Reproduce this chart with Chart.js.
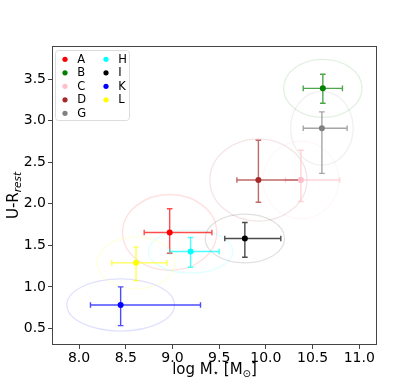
<!DOCTYPE html>
<html><head><meta charset="utf-8">
<script src="https://cdn.jsdelivr.net/npm/chart.js@4/dist/chart.umd.min.js"></script>
<style>html,body{margin:0;padding:0;background:#fff}#wrap{width:419px;height:388px;position:relative}</style>
</head><body><div id="wrap"><canvas id="c" width="419" height="388"></canvas></div>
<script>
// ---- data ----
const names  = ['A','B','C','D','G','H','I','K','L'];
const colors = ['#ff0000','#008000','#ffc0cb','#a52a2a','#808080','#00ffff','#000000','#0000ff','#ffff00'];
const logM   = [8.97, 10.61, 10.375, 9.92, 10.60, 9.194, 9.775, 8.445, 8.61];
const UR     = [1.655, 3.39, 2.287, 2.287, 2.91, 1.425, 1.582, 0.782, 1.289];
const logMLo = [8.697, 10.40, 10.21, 9.69, 10.40, 8.972, 9.56, 8.122, 8.35];
const logMHi = [9.422, 10.82, 10.79, 10.37, 10.87, 9.50, 10.16, 9.30, 8.94];
const URLo   = [1.405, 3.21, 2.028, 2.018, 2.366, 1.237, 1.357, 0.533, 1.075];
const URHi   = [1.94, 3.56, 2.644, 2.766, 3.107, 1.594, 1.775, 1.0, 1.478];
const ellRx  = [0.504, 0.42, 0.405, 0.52, 0.335, 0.452, 0.425, 0.576, 0.416];
const ellRy  = [0.457, 0.35, 0.466, 0.495, 0.444, 0.26, 0.293, 0.314, 0.314];
const xTicks = [8.0, 8.5, 9.0, 9.5, 10.0, 10.5, 11.0];
const yTicks = [0.5, 1.0, 1.5, 2.0, 2.5, 3.0, 3.5];
const xRange = [7.71, 11.19];
const yRange = [0.30, 3.90];

const FONT = 'DejaVu Sans';

function rgba(hex, a){
  const n = parseInt(hex.slice(1),16);
  return `rgba(${(n>>16)&255},${(n>>8)&255},${n&255},${a})`;
}

const datasets = names.map((n,i)=>({
  label: n,
  data: [{x: logM[i], y: UR[i]}],
  backgroundColor: colors[i],
  borderColor: colors[i],
  pointRadius: 3,
  pointHoverRadius: 3,
  borderWidth: 0
}));

const overlay = {
  id: 'overlay',
  beforeDatasetsDraw(chart){
    const ctx = chart.ctx, xs = chart.scales.x, ys = chart.scales.y, a = chart.chartArea;
    ctx.save();
    ctx.beginPath(); ctx.rect(a.left, a.top, a.right-a.left, a.bottom-a.top); ctx.clip();
    // ellipses
    names.forEach((n,i)=>{
      const cx = xs.getPixelForValue(logM[i]), cy = ys.getPixelForValue(UR[i]);
      const rx = Math.abs(xs.getPixelForValue(logM[i]+ellRx[i]) - cx);
      const ry = Math.abs(ys.getPixelForValue(UR[i]+ellRy[i]) - cy);
      ctx.beginPath(); ctx.ellipse(cx, cy, rx, ry, 0, 0, Math.PI*2);
      ctx.strokeStyle = rgba(colors[i], 0.12); ctx.lineWidth = 1.3; ctx.stroke();
    });
    // error bars
    const cap = 2.8;
    names.forEach((n,i)=>{
      const cx = xs.getPixelForValue(logM[i]), cy = ys.getPixelForValue(UR[i]);
      const x0 = xs.getPixelForValue(logMLo[i]), x1 = xs.getPixelForValue(logMHi[i]);
      const y0 = ys.getPixelForValue(URLo[i]), y1 = ys.getPixelForValue(URHi[i]);
      ctx.strokeStyle = rgba(colors[i], 0.7); ctx.lineWidth = 1.4;
      ctx.beginPath();
      ctx.moveTo(x0, cy); ctx.lineTo(x1, cy);
      ctx.moveTo(cx, y0); ctx.lineTo(cx, y1);
      ctx.moveTo(x0, cy-cap); ctx.lineTo(x0, cy+cap);
      ctx.moveTo(x1, cy-cap); ctx.lineTo(x1, cy+cap);
      ctx.moveTo(cx-cap, y0); ctx.lineTo(cx+cap, y0);
      ctx.moveTo(cx-cap, y1); ctx.lineTo(cx+cap, y1);
      ctx.stroke();
    });
    ctx.restore();
  },
  afterDraw(chart){
    const ctx = chart.ctx, a = chart.chartArea;
    ctx.save();
    // frame
    ctx.strokeStyle = '#444'; ctx.lineWidth = 1;
    ctx.strokeRect(Math.round(a.left)+0.5, Math.round(a.top)+0.5, Math.round(a.right-a.left)-1, Math.round(a.bottom-a.top)-1);
    // legend
    const lx = 55.5, ly = 50.5, lw = 74, lh = 70, r = 3;
    ctx.beginPath();
    ctx.moveTo(lx+r, ly); ctx.lineTo(lx+lw-r, ly); ctx.arcTo(lx+lw, ly, lx+lw, ly+r, r);
    ctx.lineTo(lx+lw, ly+lh-r); ctx.arcTo(lx+lw, ly+lh, lx+lw-r, ly+lh, r);
    ctx.lineTo(lx+r, ly+lh); ctx.arcTo(lx, ly+lh, lx, ly+lh-r, r);
    ctx.lineTo(lx, ly+r); ctx.arcTo(lx, ly, lx+r, ly, r); ctx.closePath();
    ctx.fillStyle = 'rgba(255,255,255,0.8)'; ctx.fill();
    ctx.strokeStyle = '#dcdcdc'; ctx.stroke();
    ctx.font = `11.5px "${FONT}"`; ctx.textBaseline = 'middle'; ctx.textAlign = 'left';
    names.forEach((n,i)=>{
      const col = i < 5 ? 0 : 1, row = i < 5 ? i : i-5;
      const mx = col ? 106 : 65, my = 59.3 + row*13.5;
      ctx.beginPath(); ctx.arc(mx, my, 2.6, 0, Math.PI*2); ctx.fillStyle = colors[i]; ctx.fill();
      ctx.fillStyle = '#000'; ctx.fillText(n, mx + 12.3, my + 0.5);
    });
    // x title: log M⋆ [M⊙]
    ctx.fillStyle = '#000'; ctx.textBaseline = 'alphabetic'; ctx.textAlign = 'left';
    const big = `15px "${FONT}"`, small = `10px "${FONT}"`;
    const parts = [['log M', big, 0], ['\u22C6', small, 2.5], [' [M', big, 0], ['\u2299', small, 3], [']', big, 0]];
    let tw = 0; parts.forEach(p=>{ ctx.font = p[1]; tw += ctx.measureText(p[0]).width; });
    let x = (a.left + a.right)/2 - tw/2; const base = 373.5;
    parts.forEach(p=>{ ctx.font = p[1]; ctx.fillText(p[0], x, base + p[2]); x += ctx.measureText(p[0]).width; });
    // y title: U-R_rest
    ctx.translate(17.5, (a.top + a.bottom)/2); ctx.rotate(-Math.PI/2);
    const yparts = [['U-R', big, 0], ['rest', `italic 10.5px "${FONT}"`, 3.5]];
    tw = 0; yparts.forEach(p=>{ ctx.font = p[1]; tw += ctx.measureText(p[0]).width; });
    x = -tw/2;
    yparts.forEach(p=>{ ctx.font = p[1]; ctx.fillText(p[0], x, p[2]); x += ctx.measureText(p[0]).width; });
    ctx.restore();
  }
};

new Chart(document.getElementById('c'), {
  type: 'scatter',
  data: { datasets },
  options: {
    responsive: false,
    devicePixelRatio: 1,
    animation: false,
    events: [],
    layout: { padding: { left: 0, top: 46, right: 42, bottom: 0 } },
    plugins: { legend: { display: false }, tooltip: { enabled: false } },
    scales: {
      x: {
        type: 'linear', min: xRange[0], max: xRange[1],
        afterBuildTicks: s => { s.ticks = xTicks.map(v => ({ value: v })); },
        afterFit: s => { s.height = 43; },
        ticks: { callback: v => Number(v).toFixed(1), color: '#000', font: { family: FONT, size: 14 }, padding: 1, maxRotation: 0, autoSkip: false },
        grid: { drawOnChartArea: false, tickLength: 4, color: '#444', tickColor: '#444' },
        border: { display: false }
      },
      y: {
        type: 'linear', min: yRange[0], max: yRange[1],
        afterBuildTicks: s => { s.ticks = yTicks.map(v => ({ value: v })); },
        afterFit: s => { s.width = 52; },
        ticks: { callback: v => Number(v).toFixed(1), color: '#000', font: { family: FONT, size: 14 }, padding: 2, autoSkip: false },
        grid: { drawOnChartArea: false, tickLength: 4, color: '#444', tickColor: '#444' },
        border: { display: false }
      }
    }
  },
  plugins: [overlay]
});
</script>
</body></html>
